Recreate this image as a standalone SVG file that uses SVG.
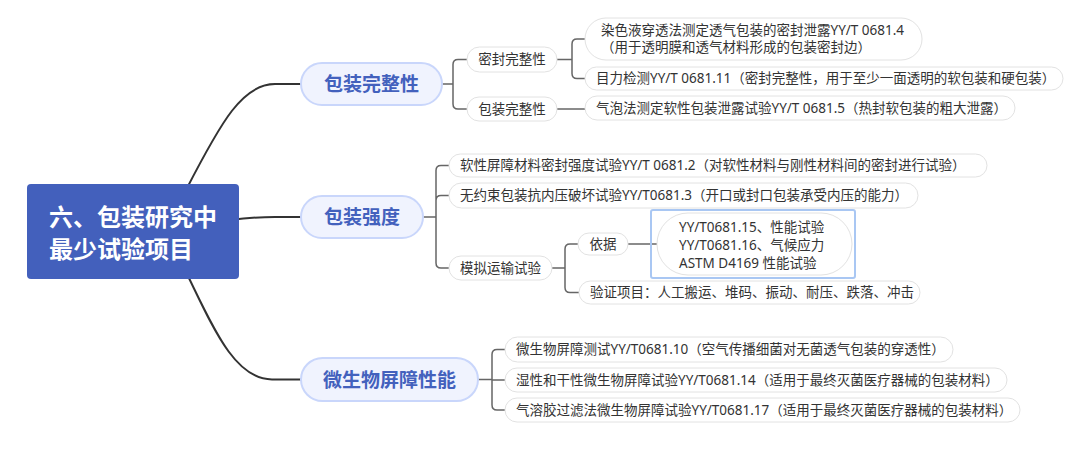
<svg xmlns="http://www.w3.org/2000/svg" width="1080" height="459" viewBox="0 0 1080 459">
<style>
text{font-family:"Noto Sans","Noto Sans CJK SC",sans-serif;}
.root{fill:#4360BC;}
.rt{fill:#fff;font-size:24px;font-weight:bold;}
.l1{fill:#F0F3FE;stroke:#C9D6FB;stroke-width:2;}
.l1t{fill:#4361BD;font-size:19px;font-weight:bold;text-anchor:middle;}
.p{fill:#fff;stroke:#E2E2E2;stroke-width:1;}
.t{fill:#333;font-size:13.5px;}
.c{text-anchor:middle;}
.main{fill:none;stroke:#333;stroke-width:2;}
.sub{fill:none;stroke:#666;stroke-width:1.5;}
.sel{fill:none;stroke:#A9C7F3;stroke-width:2;}
</style>
<rect width="1080" height="459" fill="#fff"/>
<g id="connectors">
<path class="main" d="M186 190 C222 120 243 84 275 84 H301"/>
<path class="main" d="M230 220 C255 217 260 217 275 217 H301"/>
<path class="main" d="M186 272 C212 325 234 379.5 272 379.5 H301"/>
<path class="sub" d="M442 84 H453 M467 59.5 H458 Q453 59.5 453 64.5 V104 Q453 109 458 109 H467"/>
<path class="sub" d="M557 59.5 H572 M585 39 H577 Q572 39 572 44 V73.5 Q572 78.5 577 78.5 H585"/>
<path class="sub" d="M557 109 H585"/>
<path class="sub" d="M423 217 H436 M449 165.5 H441 Q436 165.5 436 170.5 V263 Q436 268 441 268 H449 M436 200.5 Q436 195.5 441 195.5 H449"/>
<path class="sub" d="M552 268 H565 M578 244 H570 Q565 244 565 249 V287.5 Q565 292.5 570 292.5 H579"/>
<path class="sub" d="M628 244 H657"/>
<path class="sub" d="M478 379.5 H492 M505 349.5 H497 Q492 349.5 492 354.5 V405 Q492 410 497 410 H505 M492 380 H505"/>
</g>
<g id="root">
<rect class="root" x="27" y="184" width="212" height="95" rx="4"/>
<text class="rt" x="49" y="226">六、包装研究中</text>
<text class="rt" x="49" y="258">最少试验项目</text>
</g>
<g id="n-integrity">
<rect class="l1" x="301" y="63" width="141" height="42" rx="21"/>
<text class="l1t" x="371.5" y="91">包装完整性</text>
</g>
<g id="n-strength">
<rect class="l1" x="301" y="196" width="122" height="42" rx="21"/>
<text class="l1t" x="362" y="224">包装强度</text>
</g>
<g id="n-microbial">
<rect class="l1" x="301" y="358" width="177" height="43" rx="21.5"/>
<text class="l1t" x="389.5" y="386.5">微生物屏障性能</text>
</g>
<g id="n-seal">
<rect class="p" x="467" y="47" width="90" height="25" rx="12.5"/>
<text class="t c" x="512" y="64.3">密封完整性</text>
</g>
<g id="n-integrity2">
<rect class="p" x="467" y="97" width="90" height="24" rx="12"/>
<text class="t c" x="512" y="113.8">包装完整性</text>
</g>
<g id="n-dye">
<rect class="p" x="585" y="18" width="337" height="42" rx="21"/>
<text class="t" x="601" y="35">染色液穿透法测定透气包装的密封泄露YY/T 0681.4</text>
<text class="t" x="601" y="51.5">（用于透明膜和透气材料形成的包装密封边）</text>
</g>
<g id="n-visual">
<rect class="p" x="585" y="67" width="478" height="23" rx="11.5"/>
<text class="t" x="596" y="83.3">目力检测YY/T 0681.11（密封完整性，用于至少一面透明的软包装和硬包装）</text>
</g>
<g id="n-bubble">
<rect class="p" x="585" y="96" width="430" height="24" rx="12"/>
<text class="t" x="596" y="112.8">气泡法测定软性包装泄露试验YY/T 0681.5（热封软包装的粗大泄露）</text>
</g>
<g id="n-flex">
<rect class="p" x="449" y="154" width="538" height="23" rx="11.5"/>
<text class="t" x="460" y="170.3">软性屏障材料密封强度试验YY/T 0681.2（对软性材料与刚性材料间的密封进行试验）</text>
</g>
<g id="n-burst">
<rect class="p" x="449" y="183" width="469" height="25" rx="12.5"/>
<text class="t" x="460" y="200.3">无约束包装抗内压破坏试验YY/T0681.3（开口或封口包装承受内压的能力）</text>
</g>
<g id="n-transport">
<rect class="p" x="449" y="256" width="103" height="24" rx="12"/>
<text class="t c" x="500.5" y="272.8">模拟运输试验</text>
</g>
<g id="n-basis">
<rect class="p" x="578" y="233" width="50" height="22" rx="11"/>
<text class="t c" x="603" y="248.8">依据</text>
</g>
<g id="n-standards">
<rect class="p" x="657" y="213" width="195" height="62" rx="31"/>
<rect class="sel" x="651" y="210" width="204" height="68" rx="2"/>
<text class="t" x="679" y="232">YY/T0681.15、性能试验</text>
<text class="t" x="679" y="250">YY/T0681.16、气候应力</text>
<text class="t" x="679" y="268">ASTM D4169 性能试验</text>
</g>
<g id="n-items">
<rect class="p" x="579" y="281" width="341" height="23" rx="11.5"/>
<text class="t" x="590" y="297.3">验证项目：人工搬运、堆码、振动、耐压、跌落、冲击</text>
</g>
<g id="n-m1">
<rect class="p" x="505" y="337" width="448" height="25" rx="12.5"/>
<text class="t" x="516" y="354.3">微生物屏障测试YY/T0681.10（空气传播细菌对无菌透气包装的穿透性）</text>
</g>
<g id="n-m2">
<rect class="p" x="505" y="368" width="502" height="24" rx="12"/>
<text class="t" x="516" y="384.8">湿性和干性微生物屏障试验YY/T0681.14（适用于最终灭菌医疗器械的包装材料）</text>
</g>
<g id="n-m3">
<rect class="p" x="505" y="398" width="515" height="24" rx="12"/>
<text class="t" x="516" y="414.8">气溶胶过滤法微生物屏障试验YY/T0681.17（适用于最终灭菌医疗器械的包装材料）</text>
</g>
</svg>
